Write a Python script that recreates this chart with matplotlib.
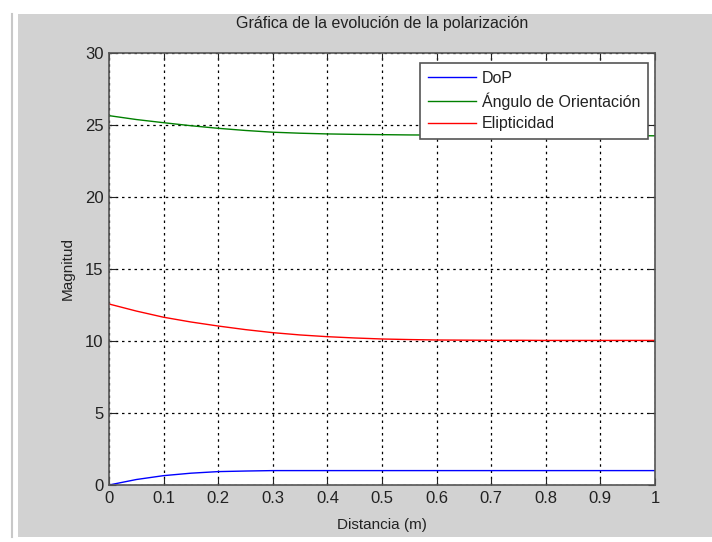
import matplotlib.pyplot as plt
from matplotlib.patches import Rectangle
from matplotlib.lines import Line2D

plt.rcParams['font.family'] = ['Liberation Sans', 'DejaVu Sans']

# datos
distancia = [0.0, 0.05, 0.1, 0.15, 0.2, 0.25, 0.3, 0.35, 0.4, 0.45, 0.5,
             0.55, 0.6, 0.65, 0.7, 0.75, 0.8, 0.85, 0.9, 0.95, 1.0]
dop = [0.0, 0.38, 0.65, 0.82, 0.93, 0.97, 1.0, 1.0, 1.0, 1.0, 1.0,
       1.0, 1.0, 1.0, 1.0, 1.0, 1.0, 1.0, 1.0, 1.0, 1.0]
angulo = [25.65, 25.38, 25.16, 24.95, 24.77, 24.62, 24.50, 24.43, 24.38, 24.35, 24.33,
          24.31, 24.30, 24.29, 24.28, 24.28, 24.27, 24.27, 24.26, 24.26, 24.25]
elipticidad = [12.57, 12.08, 11.65, 11.32, 11.04, 10.79, 10.58, 10.42, 10.30, 10.21, 10.14,
               10.10, 10.07, 10.06, 10.05, 10.05, 10.04, 10.04, 10.04, 10.04, 10.04]
etiquetas = ['DoP', 'Ángulo de Orientación', 'Elipticidad']
xticks = [0, 0.1, 0.2, 0.3, 0.4, 0.5, 0.6, 0.7, 0.8, 0.9, 1]
yticks = [0, 5, 10, 15, 20, 25, 30]

W, H = 712, 542
fig = plt.figure(figsize=(W / 100, H / 100), dpi=100)
fig.patch.set_facecolor('white')

# marco gris de la ventana
fig.patches.append(Rectangle((18 / W, 5 / H), 1 - 18 / W, (537 - 14) / H,
                             transform=fig.transFigure, facecolor='#d2d2d2',
                             edgecolor='none', zorder=-10))
fig.lines.append(Line2D([12 / W, 12 / W], [5 / H, 1 - 14 / H],
                        transform=fig.transFigure, color='#c8c8c8', lw=1.5,
                        zorder=-10))

ax = fig.add_axes([109 / W, 57 / H, (655 - 109) / W, (485 - 53) / H])
ax.set_facecolor('white')

ax.plot(distancia, dop, color='#0000ff', lw=1, label=etiquetas[0])
ax.plot(distancia, angulo, color='#008000', lw=1, label=etiquetas[1])
ax.plot(distancia, elipticidad, color='#ff0000', lw=1, label=etiquetas[2])

ax.set_xlim(0, 1)
ax.set_ylim(0, 30)
ax.set_xticks(xticks)
ax.set_xticklabels([f'{t:g}' for t in xticks])
ax.set_yticks(yticks)
ax.grid(True, color='black', linestyle=(0, (2, 3)), lw=0.9)
ax.tick_params(direction='in', length=5, top=True, right=True,
               labelsize=12, colors='#222222', pad=4)
for s in ax.spines.values():
    s.set_color('#555555')
    s.set_linewidth(1.2)

ax.set_title('Gráfica de la evolución de la polarización', fontsize=11.5,
             color='#222222', pad=18)
ax.set_xlabel('Distancia (m)', fontsize=11, color='#222222', labelpad=9)
ax.set_ylabel('Magnitud', fontsize=11, color='#222222', labelpad=7)

leg = ax.legend(loc='upper right', bbox_to_anchor=(648 / W, 1 - 63 / H),
                bbox_transform=fig.transFigure, borderaxespad=0, fancybox=False,
                framealpha=1, edgecolor='#555555', fontsize=11.5,
                handlelength=3.0, handletextpad=0.35, labelspacing=0.4,
                borderpad=0.5)
leg.get_frame().set_linewidth(1.2)
for t in leg.get_texts():
    t.set_color('#222222')

fig.savefig('out.png', dpi=100)
